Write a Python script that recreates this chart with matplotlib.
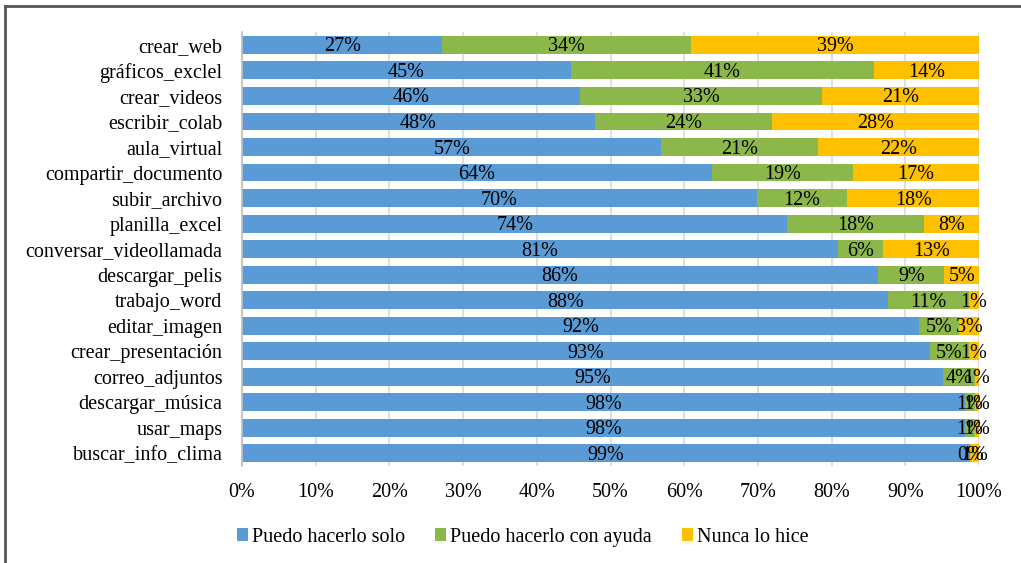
import matplotlib.pyplot as plt
from matplotlib.lines import Line2D
import numpy as np

# categorias de arriba hacia abajo
categorias = ["crear_web", "gráficos_exclel", "crear_videos", "escribir_colab",
              "aula_virtual", "compartir_documento", "subir_archivo", "planilla_excel",
              "conversar_videollamada", "descargar_pelis", "trabajo_word", "editar_imagen",
              "crear_presentación", "correo_adjuntos", "descargar_música", "usar_maps",
              "buscar_info_clima"]
solo = [27.2, 44.6, 45.9, 47.9, 56.9, 63.7, 69.8, 74.0, 80.8, 86.3, 87.7, 91.9,
        93.3, 95.1, 98.1, 98.1, 98.8]
ayuda = [33.7, 41.2, 32.8, 24.0, 21.3, 19.2, 12.3, 18.5, 6.2, 9.0, 10.9, 5.4,
         5.3, 4.3, 1.3, 1.3, 0.0]
nunca = [39.1, 14.2, 21.3, 28.1, 21.8, 17.1, 17.9, 7.5, 13.0, 4.7, 1.4, 2.7,
         1.4, 0.6, 0.6, 0.6, 1.2]
series = ["Puedo hacerlo solo", "Puedo hacerlo con ayuda", "Nunca lo hice"]
colores = ["#5B9BD5", "#8CB84B", "#FFC000"]

plt.rcParams['font.family'] = ['Liberation Serif', 'DejaVu Serif']
plt.rcParams['font.size'] = 14.5

fig = plt.figure(figsize=(10.21, 5.63), dpi=100)
ax = fig.add_axes([0.237, 0.172, 0.722, 0.771])

y = np.arange(len(categorias))
izq = np.zeros(len(categorias))
for nombre, vals, col in zip(series, [solo, ayuda, nunca], colores):
    vals = np.array(vals)
    ax.barh(y, vals, left=izq, height=0.7, color=col, label=nombre, zorder=2)
    for yi, l, v in zip(y, izq, vals):
        ax.text(l + v / 2, yi + 0.08, "%d%%" % round(v), ha='center', va='center',
                fontsize=14.5, color='black', zorder=3)
    izq = izq + vals

ax.set_ylim(len(categorias) - 0.5, -0.5)
ax.set_xlim(0, 100)
ax.set_yticks(y)
ax.set_yticklabels(categorias)
ax.set_xticks(np.arange(0, 101, 10))
ax.set_xticklabels(["%d%%" % t for t in range(0, 101, 10)])
ax.tick_params(axis='y', length=0, pad=14)
ax.tick_params(axis='x', length=0, pad=12)
ax.grid(axis='x', color='#d9d9d9', linewidth=1.2, zorder=0)
for s in ['top', 'right', 'bottom']:
    ax.spines[s].set_visible(False)
ax.spines['left'].set_color('#bfbfbf')
ax.spines['left'].set_linewidth(1.2)

fig.legend(loc='center', bbox_to_anchor=(0.512, 0.046), ncol=3, frameon=False,
           handlelength=0.55, handleheight=0.55, handletextpad=0.2, columnspacing=1.5,
           fontsize=14.5)

# marco (solo borde izquierdo y superior visibles)
fig.add_artist(Line2D([0.005, 0.005], [0.0, 0.989], transform=fig.transFigure,
                      color='#555555', linewidth=2))
fig.add_artist(Line2D([0.005, 1.0], [0.989, 0.989], transform=fig.transFigure,
                      color='#555555', linewidth=2))

fig.savefig("out.png", dpi=100)
